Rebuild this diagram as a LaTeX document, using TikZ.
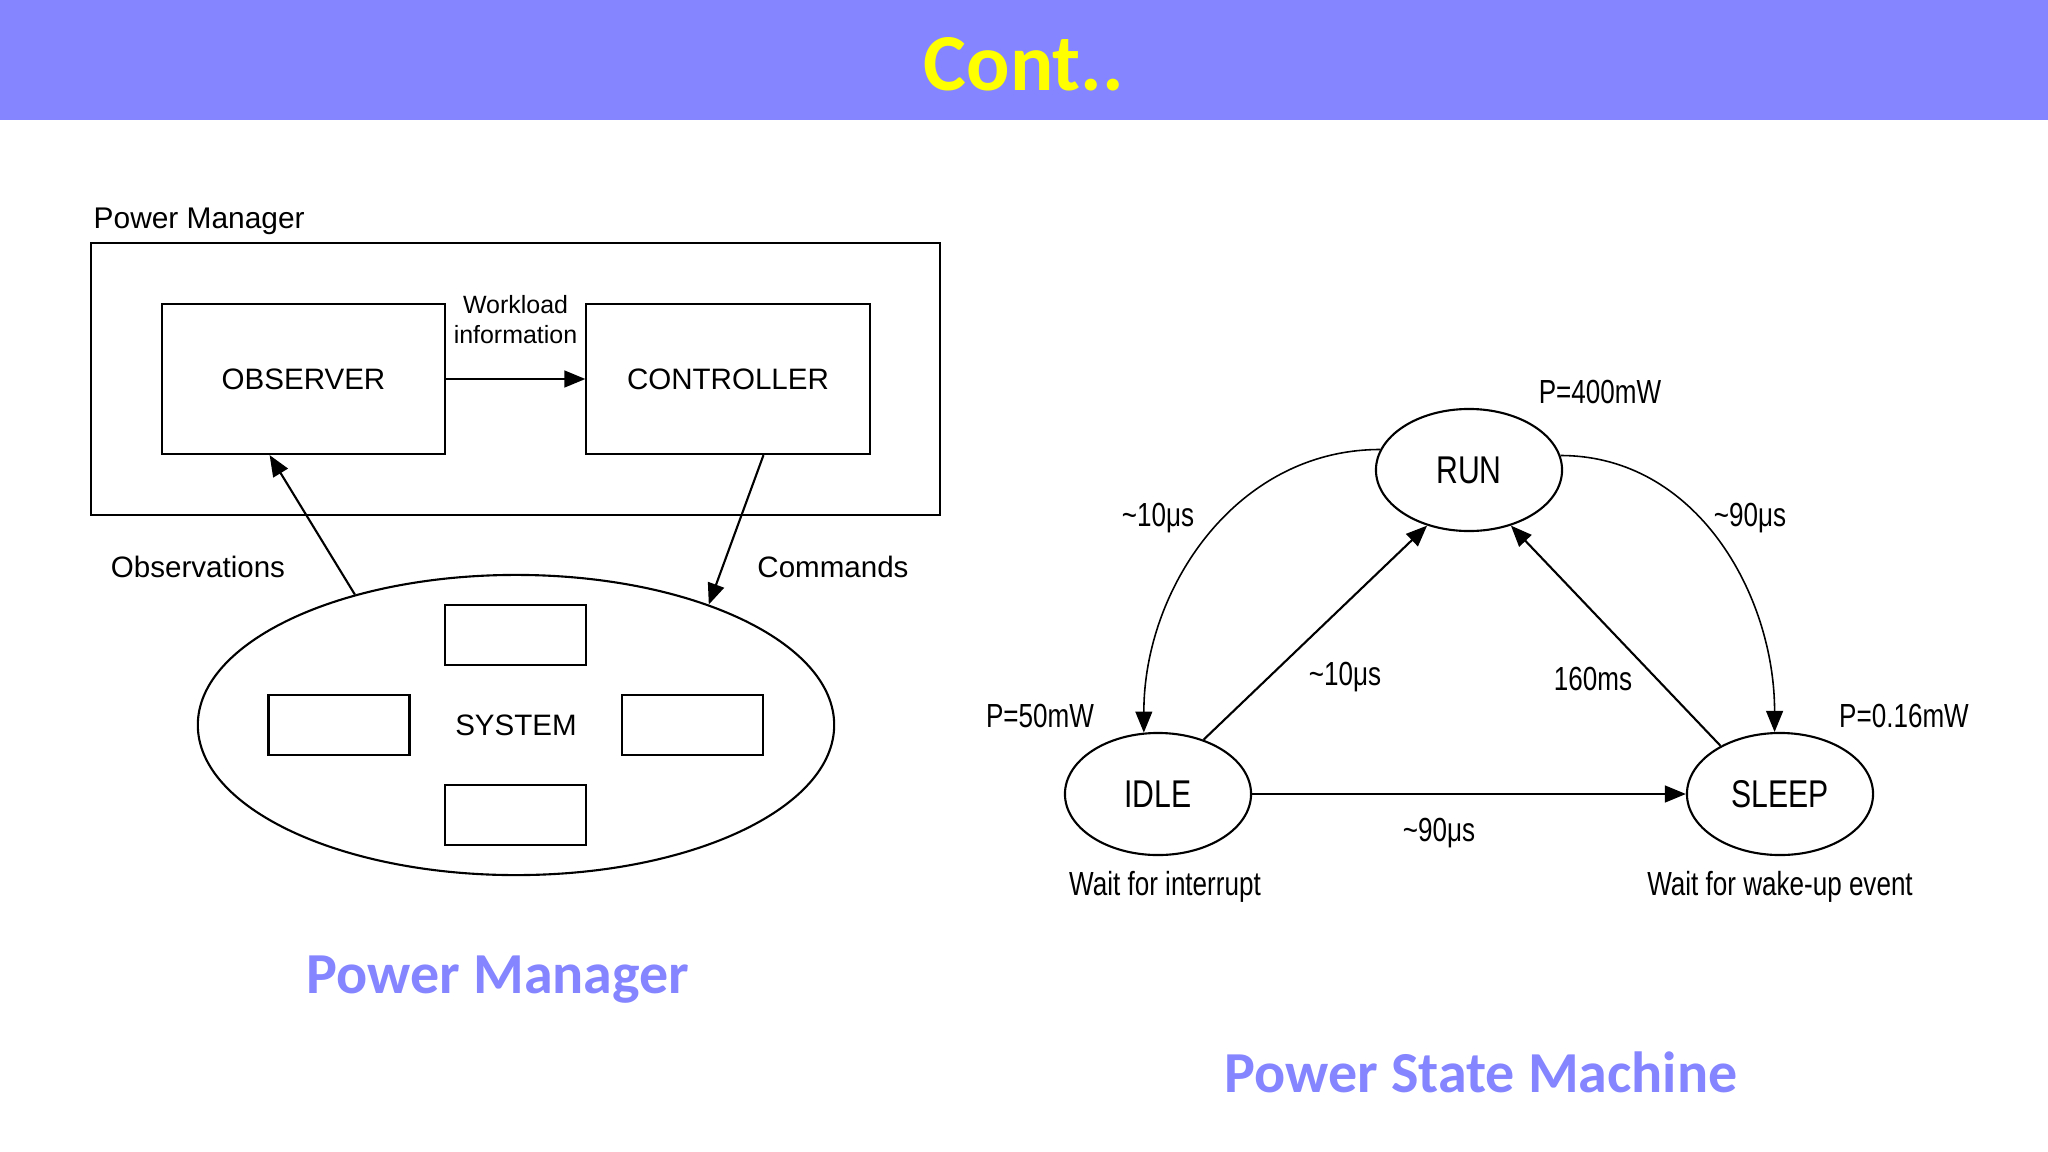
\documentclass[tikz,border=0pt]{standalone}
\usepackage{fontspec}
\setmainfont{Liberation Sans}
\newfontfamily\narrowfont[FakeStretch=0.78]{Liberation Sans}
\newfontfamily\headfont{Carlito}
\usetikzlibrary{shapes.geometric,arrows.meta}
\definecolor{bandblue}{RGB}{133,133,255}
\definecolor{titleyellow}{RGB}{255,255,0}

\begin{document}
\begin{tikzpicture}[x=0.01cm,y=-0.01cm,
    blk/.style={draw,line width=0.6pt,minimum width=2.83cm,minimum height=1.5cm,font=\fontsize{8.4}{10}\selectfont},
    cell/.style={draw,line width=0.6pt,minimum width=1.41cm,minimum height=0.6cm},
    state/.style={draw,ellipse,line width=0.6pt,minimum width=1.86cm,minimum height=1.22cm,inner sep=0pt,font=\narrowfont\fontsize{11}{13}\selectfont},
    txt/.style={font=\fontsize{8.4}{10}\selectfont},
    note/.style={font=\narrowfont\fontsize{9.5}{11}\selectfont},
    capt/.style={font=\headfont\bfseries\fontsize{16.5}{20}\selectfont,text=bandblue},
    arr/.style={-{Triangle[length=6pt,width=4.8pt]},line width=0.6pt}]
    \useasboundingbox (0,0) rectangle (2048,1151);
    \fill[bandblue] (0,0) rectangle (2048,120);
    \node[font=\headfont\bfseries\fontsize{23}{27}\selectfont,text=titleyellow] (title) at (1024,64) {Cont..};

    % power manager
    \node[anchor=west,inner sep=0pt,font=\fontsize{8.5}{10}\selectfont] (pmlabel) at (93,221) {Power Manager};
    \node[draw,line width=0.6pt,minimum width=8.49cm,minimum height=2.72cm] (pm) at (515.5,379) {};
    \node[blk] (obs) at (303.5,379) {OBSERVER};
    \node[blk] (ctrl) at (728,379) {CONTROLLER};
    \node[align=center,font=\fontsize{7.1}{8.5}\selectfont] (work) at (515.5,320) {Workload\\information};
    \draw[arr] (obs) -- (ctrl);
    \node[draw,ellipse,line width=0.6pt,minimum width=6.36cm,minimum height=3cm,txt] (sys) at (516,725) {\raisebox{-1.5pt}{SYSTEM}};
    \node[cell] (celltop) at (515.5,635) {};
    \node[cell] (cellleft) at (339,725) {};
    \node[cell] (cellright) at (692.5,725) {};
    \node[cell] (cellbot) at (515.5,815) {};
    \draw[arr] (sys.141) -- (obs.246);
    \draw[arr] (ctrl.295) -- (sys.32);
    \node[txt] (obslbl) at (198,567) {Observations};
    \node[txt] (cmdlbl) at (833,567) {Commands};

    % state machine
    \node[state] (run) at (1469,470) {RUN};
    \node[state] (idle) at (1158,794) {IDLE};
    \node[state] (sleep) at (1780,794) {SLEEP};
    \draw[arr,line width=0.45pt] (run.167) to[out=180,in=90] (idle.103);
    \draw[arr,line width=0.45pt] (run.9) to[out=0,in=90] (sleep.95);
    \draw[arr] (idle.50) -- (run.233);
    \draw[arr] (sleep.141) -- (run.307);
    \draw[arr] (idle) -- (sleep);
    \node[note] (prun) at (1600,392) {P=400mW};
    \node[note] (pidle) at (1040,716) {P=50mW};
    \node[note] (psleep) at (1904,716) {P=0.16mW};
    \node[note] (tri) at (1158,518) {\textasciitilde10μs};
    \node[note] (trs) at (1750,518) {\textasciitilde90μs};
    \node[note] (tir) at (1345,677) {\textasciitilde10μs};
    \node[note] (tsr) at (1593,679) {160ms};
    \node[note] (tis) at (1439,833) {\textasciitilde90μs};
    \node[note] (widle) at (1165,887) {Wait for interrupt};
    \node[note] (wsleep) at (1780,887) {Wait for wake-up event};

    \node[capt] (pmcap) at (498,980) {Power Manager};
    \node[capt] (psmcap) at (1481,1072) {Power State Machine};
\end{tikzpicture}
\end{document}
